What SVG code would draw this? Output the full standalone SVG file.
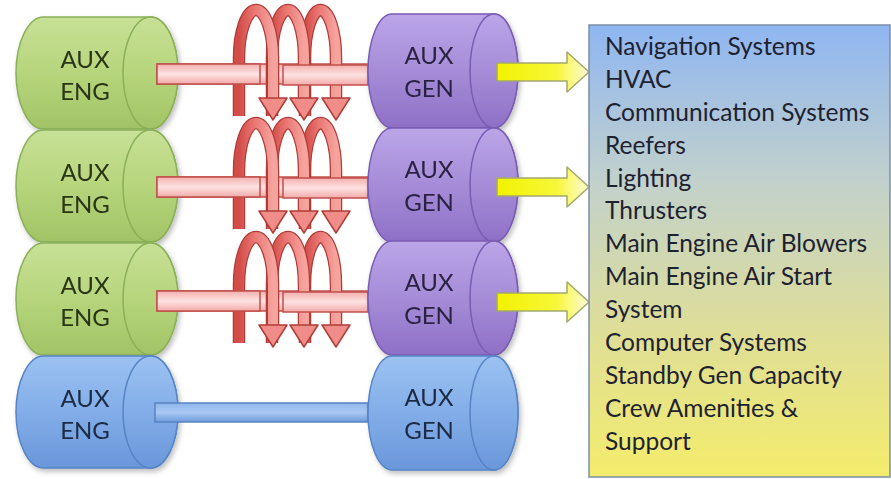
<svg xmlns="http://www.w3.org/2000/svg" width="891" height="479" viewBox="0 0 891 479">
<defs>
  <linearGradient id="gGreen" x1="0" y1="0" x2="0" y2="1">
    <stop offset="0" stop-color="#c7e196"/>
    <stop offset="0.5" stop-color="#b6d57c"/>
    <stop offset="1" stop-color="#a2c465"/>
  </linearGradient>
  <linearGradient id="gPurple" x1="0" y1="0" x2="0" y2="1">
    <stop offset="0" stop-color="#bba6e8"/>
    <stop offset="0.5" stop-color="#a68cd8"/>
    <stop offset="1" stop-color="#8e70c6"/>
  </linearGradient>
  <linearGradient id="gBlue" x1="0" y1="0" x2="0" y2="1">
    <stop offset="0" stop-color="#9cc2f2"/>
    <stop offset="0.5" stop-color="#82ade8"/>
    <stop offset="1" stop-color="#6a97da"/>
  </linearGradient>
  <linearGradient id="gPink" x1="0" y1="0" x2="0" y2="1">
    <stop offset="0" stop-color="#f4b0ae"/>
    <stop offset="0.5" stop-color="#fde2e1"/>
    <stop offset="1" stop-color="#f2aaa8"/>
  </linearGradient>
  <linearGradient id="gShaftBlue" x1="0" y1="0" x2="0" y2="1">
    <stop offset="0" stop-color="#8fb8ee"/>
    <stop offset="0.5" stop-color="#a9c9f3"/>
    <stop offset="1" stop-color="#6e9bdc"/>
  </linearGradient>
  <linearGradient id="gCoil" x1="0" y1="0" x2="1" y2="0">
    <stop offset="0" stop-color="#d24c48"/>
    <stop offset="0.45" stop-color="#ea7773"/>
    <stop offset="1" stop-color="#f6a39e"/>
  </linearGradient>
  <linearGradient id="gYellow" x1="0" y1="0" x2="1" y2="0">
    <stop offset="0" stop-color="#f2f200"/>
    <stop offset="0.65" stop-color="#f7f73a"/>
    <stop offset="1" stop-color="#fdfbd8"/>
  </linearGradient>
  <linearGradient id="gBox" x1="0" y1="0" x2="0" y2="1">
    <stop offset="0" stop-color="#8fb6f2"/>
    <stop offset="0.35" stop-color="#c2d1cb"/>
    <stop offset="0.65" stop-color="#dcdd9c"/>
    <stop offset="1" stop-color="#f4ec6c"/>
  </linearGradient>
  <filter id="sh" x="-10%" y="-10%" width="130%" height="130%">
    <feDropShadow dx="2" dy="3" stdDeviation="2.5" flood-color="#000" flood-opacity="0.25"/>
  </filter>
  <g id="coilUnit">
    <g>
      <path d="M305,116 V58 A15.5,48 0 0 1 336,58 V100" fill="none" stroke="#b03c39" stroke-width="12.5"/>
      <path d="M305,116 V58 A15.5,48 0 0 1 336,58 V100" fill="none" stroke="url(#gCoil)" stroke-width="10"/>
      <polygon points="322,98 350,98 336,120" fill="#f08d88" stroke="#b03c39" stroke-width="1.5" stroke-linejoin="round"/>
    </g>
    <g>
      <path d="M272,116 V58 A16,48 0 0 1 304,58 V100" fill="none" stroke="#b03c39" stroke-width="12.5"/>
      <path d="M272,116 V58 A16,48 0 0 1 304,58 V100" fill="none" stroke="url(#gCoil)" stroke-width="10"/>
      <polygon points="290,98 318,98 304,120" fill="#f08d88" stroke="#b03c39" stroke-width="1.5" stroke-linejoin="round"/>
    </g>
    <g>
      <path d="M239,116 V58 A17,48 0 0 1 273,58 V100" fill="none" stroke="#b03c39" stroke-width="12.5"/>
      <path d="M239,116 V58 A17,48 0 0 1 273,58 V100" fill="none" stroke="url(#gCoil)" stroke-width="10"/>
      <polygon points="259,98 287,98 273,120" fill="#f08d88" stroke="#b03c39" stroke-width="1.5" stroke-linejoin="round"/>
    </g>
  </g>
  <g id="pinkShaft">
    <rect x="157" y="64" width="211" height="20" fill="url(#gPink)" stroke="#c0504d" stroke-width="1.5"/>
  </g>
  <g id="pinkFront">
    <rect x="157" y="64" width="103" height="20" fill="url(#gPink)" stroke="#c0504d" stroke-width="1.5"/>
    <rect x="283" y="65" width="85" height="20" fill="url(#gPink)" stroke="#c0504d" stroke-width="1.5"/>
  </g>
  <polygon id="yArrow" points="497,63 567,63 567,52 589,72 567,92 567,81 497,81" fill="url(#gYellow)" stroke="#a3a86e" stroke-width="1.5" stroke-linejoin="round"/>
</defs>
<style>
  .lbl { font-family: Lato, "Liberation Sans", sans-serif; font-size: 24px; text-anchor: middle; }
  .eng { fill: #2a3518; }
  .gen { fill: #2c2442; }
  .blu { fill: #1c2b44; }
  .cg { stroke: #8bb058; stroke-width: 1.5; }
  .cp { stroke: #7a5cb2; stroke-width: 1.5; }
  .cb { stroke: #5684c6; stroke-width: 1.5; }
  .list { font-family: Lato, "Liberation Sans", sans-serif; font-size: 24.5px; fill: #1e2230; }
</style>

<!-- Engines -->
<g id="eng1" filter="url(#sh)">
  <path class="cg" d="M43.5,17 H150.5 A27.5,56 0 0 1 150.5,129 H43.5 A27.5,56 0 0 1 43.5,17 Z" fill="url(#gGreen)"/>
  <ellipse class="cg" cx="150.5" cy="73" rx="27.5" ry="56" fill="url(#gGreen)"/>
  <text class="lbl eng" x="85" y="68">AUX</text>
  <text class="lbl eng" x="85" y="100">ENG</text>
</g>
<g id="eng2" filter="url(#sh)">
  <path class="cg" d="M43.5,130 H150.5 A27.5,56 0 0 1 150.5,242 H43.5 A27.5,56 0 0 1 43.5,130 Z" fill="url(#gGreen)"/>
  <ellipse class="cg" cx="150.5" cy="186" rx="27.5" ry="56" fill="url(#gGreen)"/>
  <text class="lbl eng" x="85" y="181">AUX</text>
  <text class="lbl eng" x="85" y="213">ENG</text>
</g>
<g id="eng3" filter="url(#sh)">
  <path class="cg" d="M43.5,243 H150.5 A27.5,56 0 0 1 150.5,355 H43.5 A27.5,56 0 0 1 43.5,243 Z" fill="url(#gGreen)"/>
  <ellipse class="cg" cx="150.5" cy="299" rx="27.5" ry="56" fill="url(#gGreen)"/>
  <text class="lbl eng" x="85" y="294">AUX</text>
  <text class="lbl eng" x="85" y="326">ENG</text>
</g>
<g id="eng4" filter="url(#sh)">
  <path class="cb" d="M43.5,356 H150.5 A27.5,56 0 0 1 150.5,468 H43.5 A27.5,56 0 0 1 43.5,356 Z" fill="url(#gBlue)"/>
  <ellipse class="cb" cx="150.5" cy="412" rx="27.5" ry="56" fill="url(#gBlue)"/>
  <text class="lbl blu" x="85" y="407">AUX</text>
  <text class="lbl blu" x="85" y="439">ENG</text>
</g>

<!-- Connectors -->
<g id="connectors">
  <g id="shaft1">
    <use href="#pinkShaft"/>
    <use href="#coilUnit"/>
    <use href="#pinkFront"/>
  </g>
  <g id="shaft2" transform="translate(0,113)">
    <use href="#pinkShaft"/>
    <use href="#coilUnit"/>
    <use href="#pinkFront"/>
  </g>
  <g id="shaft3" transform="translate(0,227)">
    <use href="#pinkShaft"/>
    <use href="#coilUnit"/>
    <use href="#pinkFront"/>
  </g>
  <rect id="shaft4" x="155" y="403" width="213" height="19" fill="url(#gShaftBlue)" stroke="#5a82c0" stroke-width="1.5"/>
</g>

<!-- Generators -->
<g id="gen1" filter="url(#sh)">
  <path class="cp" d="M392,14 H494 A24,57 0 0 1 494,128 H392 A24,57 0 0 1 392,14 Z" fill="url(#gPurple)"/>
  <ellipse class="cp" cx="494" cy="71" rx="24" ry="57" fill="url(#gPurple)"/>
  <text class="lbl gen" x="429" y="64">AUX</text>
  <text class="lbl gen" x="429" y="97">GEN</text>
</g>
<g id="gen2" filter="url(#sh)">
  <path class="cp" d="M392,128 H494 A24,57 0 0 1 494,242 H392 A24,57 0 0 1 392,128 Z" fill="url(#gPurple)"/>
  <ellipse class="cp" cx="494" cy="185" rx="24" ry="57" fill="url(#gPurple)"/>
  <text class="lbl gen" x="429" y="178">AUX</text>
  <text class="lbl gen" x="429" y="211">GEN</text>
</g>
<g id="gen3" filter="url(#sh)">
  <path class="cp" d="M392,241 H494 A24,57 0 0 1 494,355 H392 A24,57 0 0 1 392,241 Z" fill="url(#gPurple)"/>
  <ellipse class="cp" cx="494" cy="298" rx="24" ry="57" fill="url(#gPurple)"/>
  <text class="lbl gen" x="429" y="291">AUX</text>
  <text class="lbl gen" x="429" y="324">GEN</text>
</g>
<g id="gen4" filter="url(#sh)">
  <path class="cb" d="M392,356 H494 A24,57 0 0 1 494,470 H392 A24,57 0 0 1 392,356 Z" fill="url(#gBlue)"/>
  <ellipse class="cb" cx="494" cy="413" rx="24" ry="57" fill="url(#gBlue)"/>
  <text class="lbl blu" x="429" y="406">AUX</text>
  <text class="lbl blu" x="429" y="439">GEN</text>
</g>

<!-- Output arrows -->
<g id="arrows">
  <use href="#yArrow"/>
  <use href="#yArrow" transform="translate(0,115)"/>
  <use href="#yArrow" transform="translate(0,230)"/>
</g>

<!-- Loads box -->
<g id="loads">
  <rect x="589" y="25" width="301" height="452" fill="url(#gBox)" stroke="#7b8fa6" stroke-width="1.5"/>
  <text class="list" x="605" y="55">Navigation Systems</text>
  <text class="list" x="605" y="88">HVAC</text>
  <text class="list" x="605" y="121">Communication Systems</text>
  <text class="list" x="605" y="154">Reefers</text>
  <text class="list" x="605" y="187">Lighting</text>
  <text class="list" x="605" y="219">Thrusters</text>
  <text class="list" x="605" y="252">Main Engine Air Blowers</text>
  <text class="list" x="605" y="285">Main Engine Air Start</text>
  <text class="list" x="605" y="318">System</text>
  <text class="list" x="605" y="351">Computer Systems</text>
  <text class="list" x="605" y="384">Standby Gen Capacity</text>
  <text class="list" x="605" y="417">Crew Amenities &amp;</text>
  <text class="list" x="605" y="450">Support</text>
</g>
</svg>
